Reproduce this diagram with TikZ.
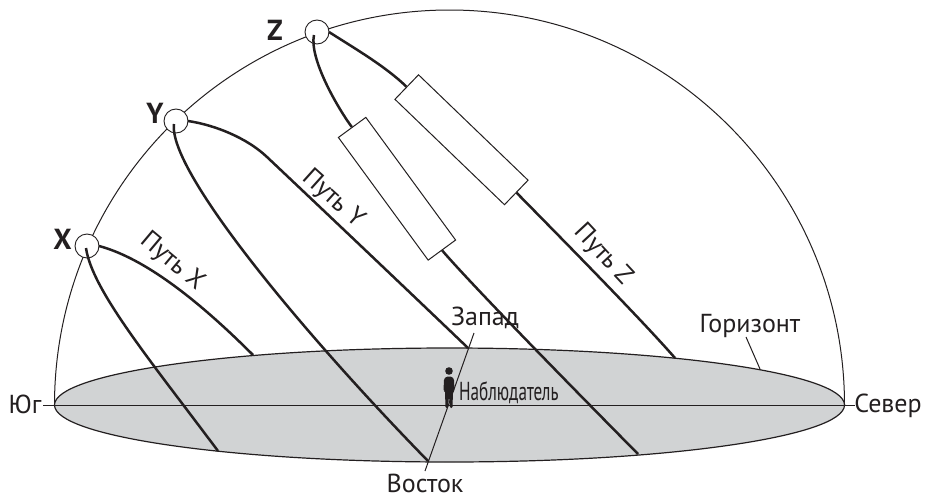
\documentclass[tikz,border=0pt]{standalone}
\usepackage{fontspec}
\setmainfont{PT Sans}
\definecolor{hz}{RGB}{209,211,212}
\definecolor{ink}{RGB}{35,31,32}
\begin{document}
\begin{tikzpicture}[x=1pt,y=-1pt,
  thinl/.style={line width=1pt, draw=ink},
  pathl/.style={line width=2.5pt, draw=ink},
  lbl/.style={font=\fontsize{26}{29}\selectfont, inner sep=0pt, text=ink},
  sunlbl/.style={font=\fontsize{29}{32}\selectfont\bfseries, inner sep=0pt, text=ink},
  sun/.style={circle, draw=ink, fill=white, minimum size=24pt, inner sep=0pt, line width=0.9pt},
  occl/.style={draw=ink, fill=white, minimum width=152pt, minimum height=34pt, inner sep=0pt, line width=1pt}]
\useasboundingbox (0,0) rectangle (927,498);
\fill[white] (0,0) rectangle (927,498);

% dome
\draw[thinl] (54.5,405) arc[start angle=180, end angle=360, radius=395];

% horizon plane
\draw[line width=1.2pt, draw=ink, fill=hz] (449.5,405) ellipse[x radius=395, y radius=57];
\coordinate (S) at (43,405);
\coordinate (N) at (855,405);
\draw[thinl] (S) -- (N);

% suns
\node[sun] (X) at (87,246) {};
\node[sun] (Y) at (176,121) {};
\node[sun] (Z) at (317,32) {};

% end points of paths
\coordinate (xa) at (86,248);
\coordinate (xb) at (99,246);
\coordinate (xf) at (218,451);
\coordinate (xr) at (253,355);
\coordinate (ya) at (174,124);
\coordinate (yb) at (188,121);
\coordinate (ym) at (267,157);
\coordinate (yf) at (428,461);
\coordinate (yr) at (468,348);
\coordinate (za) at (314,35);
\coordinate (zb) at (329,32);
\coordinate (zf) at (638,454);
\coordinate (zr) at (675,358);

% path X
\draw[pathl] (xa) .. controls (92,290) and (150,360) .. (xf);
\draw[pathl] (xb) .. controls (140,257) and (191,293) .. (xr);
% path Y
\draw[pathl] (ya) .. controls (168,170) and (300,330) .. (yf);
\draw[pathl] (yb) .. controls (215,125) and (247,138) .. (ym)
  .. controls (320,207) and (420,302) .. (yr);

% path Z with occluding boxes
\node[occl, rotate=-53.8] (r1) at (397,188.75) {};
\node[occl, rotate=-43.9] (r2) at (461.5,139.75) {};
\draw[pathl] (za) .. controls (309,58) and (337,107) .. (r1.west);
\draw[pathl] (r1.east) .. controls (472,285) and (560,375) .. (zf);
\draw[pathl] (zb) .. controls (354,48) and (386.5,67) .. (r2.west);
\draw[pathl] (r2.east) .. controls (560,237) and (640,318) .. (zr);

% sun labels
\node[sunlbl] (lx) at (62.5,239) {X};
\node[sunlbl] (ly) at (155,113) {Y};
\node[sunlbl] (lz) at (275,30) {Z};

% path labels
\node[lbl, rotate=-40] (px) at (172,262) {Путь X};
\node[lbl, rotate=-42] (py) at (333,199) {Путь Y};
\node[lbl, rotate=-47] (pz) at (603,255) {Путь Z};

% compass labels
\node[lbl, anchor=base] (yug) at (25,413) {Юг};
\node[lbl, anchor=base] (sev) at (888,412) {Север};
\node[lbl, anchor=base] (zap) at (485,325) {Запад};
\node[lbl, anchor=base] (vos) at (425,492) {Восток};
\node[lbl, anchor=base] (hor) at (750,332) {Горизонт};

% east-west line
\coordinate (wp) at (474,333);
\coordinate (ep) at (425,471);
\draw[thinl] (wp) -- (ep);

% horizon pointer
\coordinate (h1) at (746,337);
\coordinate (h2) at (760,369);
\draw[thinl] (h1) -- (h2);

% observer
\fill[ink] (449,371) circle[radius=3.8];
\fill[ink, rounded corners=1.2pt] (443.5,391) -- (444,379) -- (446.5,376.5) -- (451.5,376.5)
  -- (454,379) -- (454.5,391) -- (453,391) -- (452.5,408) -- (450,408) -- (449,396)
  -- (448,408) -- (445.5,408) -- (445,391) -- cycle;
\node[lbl, anchor=base west] (obs) at (459,400) {\scalebox{0.66}[1]{Наблюдатель}};
\end{tikzpicture}
\end{document}
